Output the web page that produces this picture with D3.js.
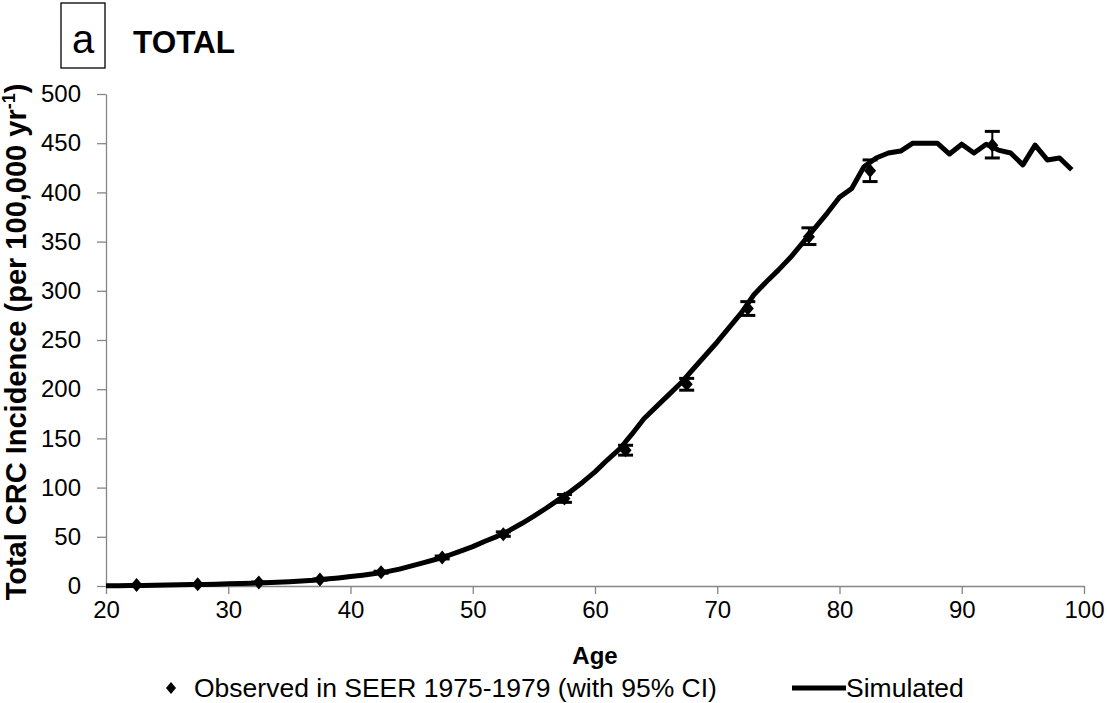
<html>
<style>
body { margin: 0; background: #fff; }
text { font-family: "Liberation Sans", Arial, sans-serif; fill: #000; }
.axis path, .axis line { stroke: #868686; stroke-width: 1.3px; }
.axis text { font-size: 24px; }
</style>
<svg width="1107" height="703"></svg>
<script src="https://d3js.org/d3.v7.min.js"></script>
<script>

// simulated incidence, one value per single year of age 20..99
var simAges = d3.range(20, 100);
var simValues = [0.2, 0.3, 0.5, 0.6, 0.8, 1.0, 1.2, 1.4, 1.6, 1.9,
                 2.2, 2.5, 2.9, 3.3, 3.8, 4.4, 5.1, 5.9, 7.0, 8.2,
                 9.6, 11.0, 12.6, 14.6, 17.2, 20.5, 23.8, 27.2, 31, 35.5,
                 40, 45.5, 50.5, 56.5, 63.5, 71, 79, 87.5, 96, 105.5,
                 116, 128, 139, 154, 170, 182, 194, 206, 220, 234,
                 248, 263, 278, 296, 309, 321, 334, 349, 364, 379,
                 395, 404, 426, 435, 440, 442, 450, 450, 450, 439,
                 449, 440, 449, 443, 440, 428, 448, 433, 435, 423];

// observed SEER 1975-1979, five-year age group midpoints
var obsAges  = [22.5, 27.5, 32.5, 37.5, 42.5, 47.5, 52.5, 57.5, 62.5, 67.5, 72.5, 77.5, 82.5, 92.5];
var obsValues = [0.9, 1.7, 3.6, 6.6, 14, 29, 52.5, 89, 138, 205, 282, 355, 422, 448];
var obsLow   = [0.5, 1.4, 3.2, 6.0, 13, 27.5, 50.5, 85, 133, 199, 275, 347, 411, 435];
var obsHigh  = [1.3, 2.0, 4.0, 7.2, 15, 30.5, 55, 93, 143, 211, 289, 364, 433, 462];

var xTicks = [20, 30, 40, 50, 60, 70, 80, 90, 100];
var yTicks = [0, 50, 100, 150, 200, 250, 300, 350, 400, 450, 500];

var svg = d3.select("svg"),
    margin = {top: 94, right: 23, bottom: 117, left: 106},
    width = +svg.attr("width") - margin.left - margin.right,
    height = +svg.attr("height") - margin.top - margin.bottom,
    g = svg.append("g").attr("transform", "translate(" + margin.left + "," + margin.top + ")");

var x = d3.scaleLinear().domain([20, 100]).range([0, width]);
var y = d3.scaleLinear().domain([0, 500]).range([height, 0]);

g.append("g")
    .attr("class", "axis")
    .attr("transform", "translate(0," + height + ")")
    .call(d3.axisBottom(x).tickValues(xTicks).tickSize(8).tickSizeOuter(0).tickPadding(7));

g.append("g")
    .attr("class", "axis")
    .call(d3.axisLeft(y).tickValues(yTicks).tickSize(9).tickSizeOuter(0).tickPadding(16));

// simulated line
var line = d3.line()
    .x(function(d, i) { return x(simAges[i]); })
    .y(function(d) { return y(d); });

g.append("path")
    .datum(simValues)
    .attr("d", line)
    .attr("fill", "none")
    .attr("stroke", "#000")
    .attr("stroke-width", 5)
    .attr("stroke-linejoin", "round");

// error bars
var eb = g.append("g").selectAll("g")
  .data(obsAges)
  .enter().append("g");

eb.append("line")
    .attr("x1", function(d) { return x(d); })
    .attr("x2", function(d) { return x(d); })
    .attr("y1", function(d, i) { return y(obsLow[i]); })
    .attr("y2", function(d, i) { return y(obsHigh[i]); })
    .attr("stroke", "#000").attr("stroke-width", 2);

[obsLow, obsHigh].forEach(function(arr) {
  eb.append("line")
      .attr("x1", function(d) { return x(d) - 7.5; })
      .attr("x2", function(d) { return x(d) + 7.5; })
      .attr("y1", function(d, i) { return y(arr[i]); })
      .attr("y2", function(d, i) { return y(arr[i]); })
      .attr("stroke", "#000").attr("stroke-width", 3);
});

function diamond(w, h) {
  return "M0," + (-h) + "L" + w + ",0L0," + h + "L" + (-w) + ",0Z";
}

g.append("g").selectAll("path")
  .data(obsAges)
  .enter().append("path")
    .attr("d", diamond(6, 7))
    .attr("transform", function(d, i) { return "translate(" + x(d) + "," + y(obsValues[i]) + ")"; })
    .attr("fill", "#000");

// axis titles
svg.append("text")
    .attr("x", margin.left + width / 2)
    .attr("y", 664)
    .attr("text-anchor", "middle")
    .style("font-size", "24px")
    .style("font-weight", "bold")
    .text("Age");

var yl = svg.append("text")
    .attr("transform", "translate(26,342) rotate(-90)")
    .attr("text-anchor", "middle")
    .style("font-size", "29px")
    .style("font-weight", "bold");
yl.append("tspan").text("Total CRC Incidence (per 100,000 yr");
yl.append("tspan").attr("dy", -11).style("font-size", "18px").text("-1");
yl.append("tspan").attr("dy", 11).text(")");

// panel label
svg.append("rect")
    .attr("x", 61).attr("y", 3).attr("width", 44).attr("height", 65)
    .attr("fill", "none").attr("stroke", "#000").attr("stroke-width", 1.3);
svg.append("text")
    .attr("x", 83).attr("y", 53)
    .attr("text-anchor", "middle")
    .style("font-size", "40px")
    .text("a");
svg.append("text")
    .attr("x", 133).attr("y", 53)
    .style("font-size", "31.5px")
    .style("font-weight", "bold")
    .text("TOTAL");

// legend
var lg = svg.append("g").attr("transform", "translate(0,688)");
lg.append("path").attr("d", diamond(5, 6)).attr("transform", "translate(171,0)").attr("fill", "#000");
lg.append("text").attr("x", 194).attr("y", 9).style("font-size", "26.5px")
    .text("Observed in SEER 1975-1979 (with 95% CI)");
lg.append("line").attr("x1", 792).attr("x2", 846).attr("y1", 0).attr("y2", 0)
    .attr("stroke", "#000").attr("stroke-width", 5);
lg.append("text").attr("x", 846).attr("y", 9).style("font-size", "26.5px")
    .text("Simulated");

</script>
</html>
